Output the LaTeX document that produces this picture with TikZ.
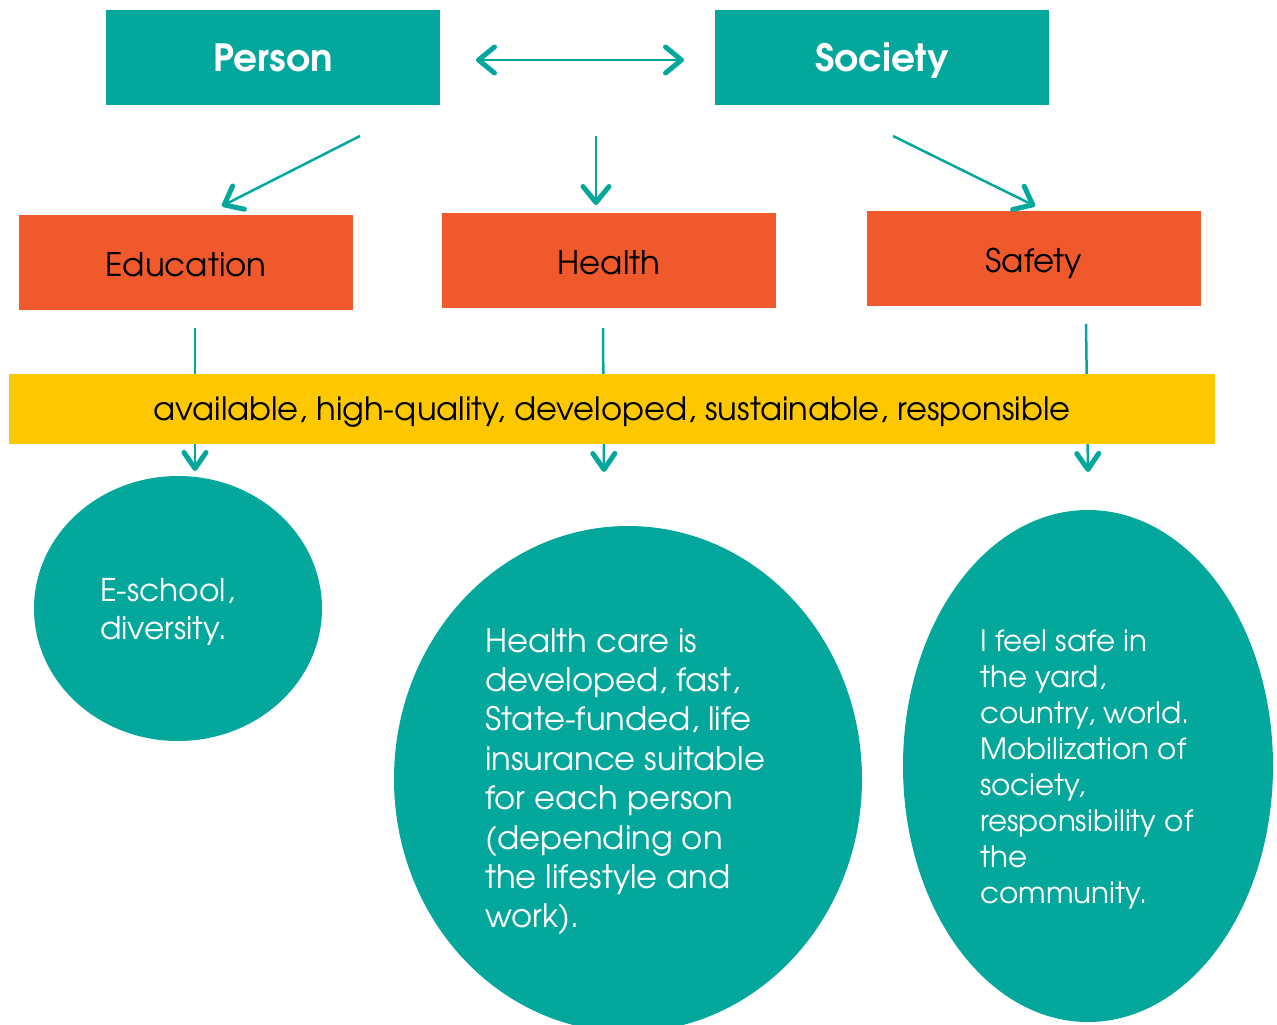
\documentclass[tikz,border=0pt]{standalone}
\usepackage{fontspec}
\setmainfont{TeX Gyre Adventor}
\usetikzlibrary{arrows.meta,shapes.geometric}
\definecolor{tealc}{HTML}{03A79C}
\definecolor{orngc}{HTML}{F0592B}
\definecolor{yellc}{HTML}{FDC800}
\begin{document}
\begin{tikzpicture}[x=1pt,y=-1pt,
  topbox/.style={fill=tealc, minimum width=334pt, minimum height=95pt, inner sep=0pt, text=white, font=\fontsize{37.5}{42}\selectfont\bfseries, text height=27pt, text depth=0pt},
  midbox/.style={fill=orngc, minimum width=334pt, minimum height=95pt, inner sep=0pt, text=black, font=\fontsize{32.5}{38}\selectfont, text height=28pt, text depth=0pt},
  bandbox/.style={fill=yellc, minimum width=1206pt, minimum height=70pt, inner sep=0pt, text=black, font=\fontsize{32.2}{38}\selectfont, text height=24pt, text depth=1pt},
  blob/.style={ellipse, fill=tealc, inner sep=0pt},
  ctext/.style={anchor=north west, inner sep=0pt, align=left, text=white},
  conn/.style={draw=tealc, line width=2.5pt, -{Straight Barb[length=16pt,width=26pt,line width=5pt,round]}},
  dconn/.style={draw=tealc, line width=2.5pt, {Straight Barb[length=16pt,width=26pt,line width=5pt,round]}-{Straight Barb[length=16pt,width=26pt,line width=5pt,round]}},
  sconn/.style={draw=tealc, line width=2.5pt, -{Straight Barb[length=16pt,width=22pt,line width=5pt,round]}},
]
\path[use as bounding box] (0,0) rectangle (1277,1025);
\clip (0,0) rectangle (1277,1025);

% top boxes
\node[topbox] (person) at (273,57.5) {Person};
\node[topbox] (society) at (882,57.5) {Society};

% middle boxes
\node[midbox] (edu) at (186,262.5) {Education};
\node[midbox] (health) at (609,260.5) {Health};
\node[midbox] (safety) at (1034,258.5) {Safety};

% connector points
\coordinate (d1) at (476,60);
\coordinate (d2) at (684,60);
\coordinate (p1) at (360,136);
\coordinate (p2) at (222,206);
\coordinate (h1) at (596,136);
\coordinate (h2) at (596,205);
\coordinate (s1) at (893,136);
\coordinate (s2) at (1035,206);
\coordinate (l1a) at (195,328);
\coordinate (l1b) at (195,471);
\coordinate (l2a) at (603,328);
\coordinate (l2b) at (604,472);
\coordinate (l3a) at (1086,324);
\coordinate (l3b) at (1088,472);

\draw[dconn] (d1) -- (d2);
\draw[conn] (p1) -- (p2);
\draw[conn] (h1) -- (h2);
\draw[conn] (s1) -- (s2);
\draw[sconn] (l1a) -- (l1b);
\draw[sconn] (l2a) -- (l2b);
\draw[sconn] (l3a) -- (l3b);

% band
\node[bandbox] (band) at (612,409) {available, high-quality, developed, sustainable, responsible};

% ellipses
\node[blob, minimum width=288pt, minimum height=265pt] (e1) at (178,608.5) {};
\node[blob, minimum width=468pt, minimum height=506pt] (e2) at (628,779) {};
\node[blob, minimum width=370pt, minimum height=512pt] (e3) at (1088,766) {};

\node[ctext, font=\fontsize{31.3}{38}\selectfont] (t1) at (100,578) {E-school,\\diversity.};
\node[ctext, font=\fontsize{32.3}{39.4}\selectfont] (t2) at (485,628) {Health care is\\developed, fast,\\State-funded, life\\insurance suitable\\for each person\\(depending on\\the lifestyle and\\work).};
\node[ctext, font=\fontsize{29.4}{35.9}\selectfont] (t3) at (980,630) {I feel safe in\\the yard,\\country, world.\\Mobilization of\\society,\\responsibility of\\the\\community.};
\end{tikzpicture}
\end{document}
